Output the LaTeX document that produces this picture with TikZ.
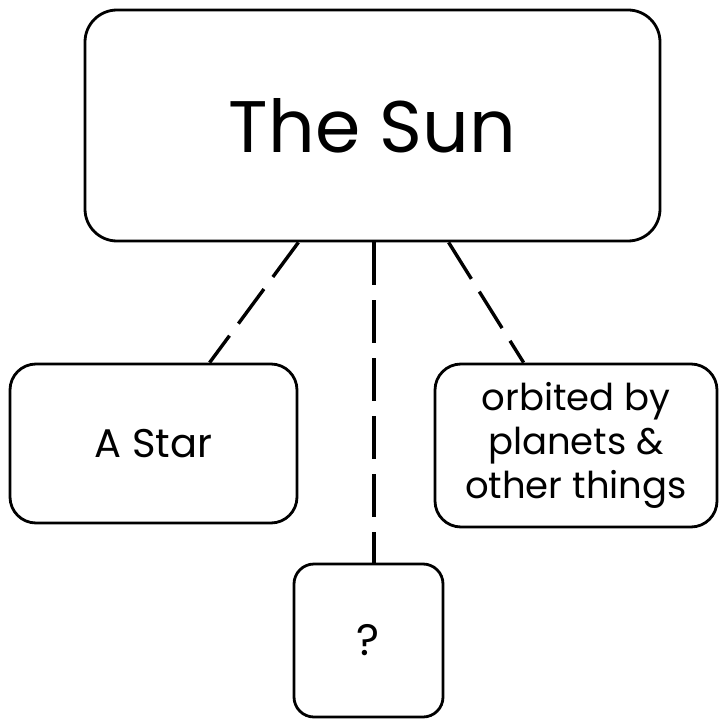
\documentclass[tikz,border=0pt]{standalone}
\usepackage{fontspec}
\setmainfont{Poppins}
\usetikzlibrary{calc}
\begin{document}
\begin{tikzpicture}[x=1pt,y=-1pt,
  box/.style={draw=black, line width=2.8pt, rounded corners=#1, inner sep=0pt, align=center},
  link/.style={draw=black, line width=3.4pt, dash pattern=on 43pt off 15pt}]
\useasboundingbox (0,0) rectangle (719,722);
\node[box=32pt, minimum width=575pt, minimum height=231pt, font=\fontsize{73}{88}\selectfont] (sun) at (372.5,125.5) {The Sun};
\node[box=26pt, minimum width=287pt, minimum height=159pt, font=\fontsize{40}{48}\selectfont] (star) at (153.5,443.5) {A Star};
\node[box=26pt, minimum width=282pt, minimum height=163pt, font=\fontsize{37}{44}\selectfont] (orb) at (576,445.5) {orbited by\\planets \&\\other things};
\node[box=20pt, minimum width=149pt, minimum height=153pt, font=\fontsize{44}{50}\selectfont] (q) at (368.5,640.5) {?};
\draw[link] (sun.south -| star.east) -- ($(star.north west)+(201,0)$);
\draw[link] (sun.south -| q.north) ++(5.5,0) -- ($(q.north)+(5.5,0)$);
\draw[link] ($(sun.south west)+(365,0)$) -- ($(orb.north west)+(90,0)$);
\end{tikzpicture}
\end{document}
